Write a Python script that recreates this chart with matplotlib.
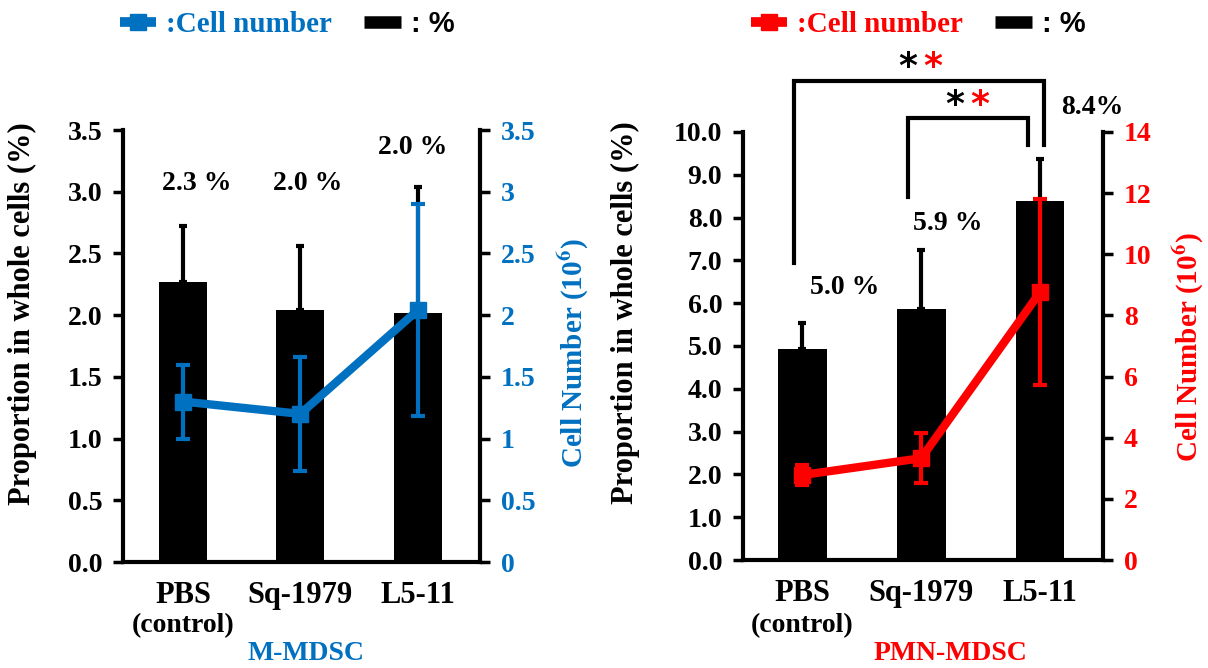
import numpy as np
import matplotlib
matplotlib.use('Agg')
import matplotlib.pyplot as plt
from matplotlib.lines import Line2D
from matplotlib.transforms import blended_transform_factory

plt.rcParams['font.family'] = 'Liberation Serif'
plt.rcParams['font.weight'] = 'bold'
plt.rcParams['axes.labelweight'] = 'bold'
plt.rcParams['mathtext.fontset'] = 'stix'

# --- data ---
groups = ['PBS', 'Sq-1979', 'L5-11']

m_pct = [2.27, 2.04, 2.02]
m_pct_err = [0.45, 0.52, 1.02]
m_cell = [1.30, 1.20, 2.04]
m_cell_err = [0.30, 0.46, 0.86]
m_pct_labels = ['2.3 %', '2.0 %', '2.0 %']

pmn_pct = [4.93, 5.86, 8.39]
pmn_pct_err = [0.61, 1.38, 0.98]
pmn_cell = [2.78, 3.33, 8.76]
pmn_cell_err = [0.32, 0.82, 3.05]
pmn_pct_labels = ['5.0 %', '5.9 %', '8.4%']

BLUE = '#0070C0'
RED = '#FF0000'

# layout of the value labels (x offset from bar, y in left-axis units)
m_label_pos = [(0.12, 3.07), (0.06, 3.07), (-0.04, 3.36)]
pmn_label_pos = [(0.36, 6.36), (0.22, 7.87), (0.44, 10.58)]

fig = plt.figure(figsize=(12.08, 6.68), dpi=100)


def draw_panel(rect, pct, pct_err, cell, cell_err, color, xlim,
               ylim, yticks, ylim2, yticks2, fmt2, labels, label_pos):
    ax = fig.add_axes(rect)
    x = np.arange(len(groups))
    ax.bar(x, pct, width=0.41, color='black', zorder=2)
    ax.errorbar(x, pct, yerr=[np.zeros(len(pct)), pct_err], fmt='none',
                ecolor='black', elinewidth=3, capsize=3, capthick=3, zorder=3)
    ax.set_xlim(*xlim)
    ax.set_ylim(*ylim)
    ax.set_yticks(yticks)
    ax.set_yticklabels(['%.1f' % v for v in yticks])
    ax.set_xticks(x)
    ax.set_xticklabels(groups, fontsize=22)
    ax.tick_params(axis='x', length=0, pad=14)
    ax.tick_params(axis='y', direction='out', length=7, width=2.5,
                   labelsize=20, pad=8)
    ax.spines['top'].set_visible(False)
    ax.spines['right'].set_visible(False)
    for s in ['left', 'bottom']:
        ax.spines[s].set_linewidth(3)

    for i, (dx, yy) in enumerate(label_pos):
        ax.text(i + dx, yy, labels[i], ha='center', va='center', fontsize=20)

    trans = blended_transform_factory(ax.transData, fig.transFigure)
    ax.text(0, 1 - 626 / 668, '(control)', transform=trans, ha='center',
            va='center', fontsize=20)

    ax2 = ax.twinx()
    ax2.errorbar(x, cell, yerr=cell_err, color=color, lw=6, marker='s',
                 ms=11, elinewidth=3, capsize=5, capthick=3, zorder=4)
    ax2.set_ylim(*ylim2)
    ax2.set_yticks(yticks2)
    ax2.set_yticklabels([fmt2(v) for v in yticks2])
    ax2.tick_params(axis='y', direction='out', length=7, width=2.5,
                    labelsize=20, labelcolor=color, color='black', pad=8)
    for s in ['top', 'left', 'bottom']:
        ax2.spines[s].set_visible(False)
    ax2.spines['right'].set_linewidth(3)
    ax2.set_ylabel('Cell Number (10$^{\\mathbf{6}}$)', color=color,
                   fontsize=21)
    ax.set_ylabel('Proportion in whole cells (%)', fontsize=22)
    return ax, ax2


# left panel: M-MDSC
axL, axL2 = draw_panel([123 / 1208, 1 - 562 / 668, 357 / 1208, 432 / 668],
                       m_pct, m_pct_err, m_cell, m_cell_err, BLUE,
                       (-0.51, 2.53), (0, 3.5), np.arange(0, 3.51, 0.5),
                       (0, 3.5), np.arange(0, 3.51, 0.5), lambda v: '%g' % v,
                       m_pct_labels, m_label_pos)
axL.yaxis.set_label_coords(-0.241, 0.576)
axL2.yaxis.set_label_coords(1.21, 0.484)

# right panel: PMN-MDSC
axR, axR2 = draw_panel([743 / 1208, 1 - 560 / 668, 360 / 1208, 428 / 668],
                       pmn_pct, pmn_pct_err, pmn_cell, pmn_cell_err, RED,
                       (-0.50, 2.53), (0, 10), np.arange(0, 10.01, 1.0),
                       (0, 14), np.arange(0, 14.1, 2), lambda v: '%d' % v,
                       pmn_pct_labels, pmn_label_pos)
axR.yaxis.set_label_coords(-0.286, 0.577)
axR2.yaxis.set_label_coords(1.186, 0.498)

# significance brackets (x0, x1, top, left leg bottom, right leg bottom)
brackets = [(-0.07, 2.03, 11.2, 6.94, 9.7), (0.887, 1.90, 10.33, 8.48, 9.7)]
for x0, x1, top, yb0, yb1 in brackets:
    axR.plot([x0, x0, x1, x1], [yb0, top, top, yb1], color='black', lw=3,
             clip_on=False, solid_joinstyle='miter', zorder=5)
stars = [(0.887, 1.10, 11.52), (1.28, 1.49, 10.63)]
for xb, xr, yy in stars:
    axR.text(xb, yy, '*', color='black', fontsize=26, ha='center',
             va='center', family='DejaVu Sans', clip_on=False)
    axR.text(xr, yy, '*', color=RED, fontsize=26, ha='center',
             va='center', family='DejaVu Sans', clip_on=False)

# group names
fig.text(306 / 1208, 1 - 653 / 668, 'M-MDSC', color=BLUE, fontsize=20,
         ha='center', va='center')
fig.text(950 / 1208, 1 - 653 / 668, 'PMN-MDSC', color=RED, fontsize=20,
         ha='center', va='center')


# legends
def add_legend(color, cx):
    h1 = Line2D([], [], color=color, lw=7, marker='s', ms=12,
                solid_capstyle='butt')
    h2 = Line2D([], [], color='black', lw=9, solid_capstyle='butt')
    leg = fig.legend([h1, h2], [':Cell number', ': %'], loc='center',
                     bbox_to_anchor=(cx / 1208, 1 - 24 / 668), ncol=2,
                     frameon=False, fontsize=21, handlelength=1.25,
                     handletextpad=0.35, columnspacing=1.1)
    t1, t2 = leg.get_texts()
    t1.set_color(color)
    t2.set_family('Liberation Sans')
    return leg


add_legend(BLUE, 287)
add_legend(RED, 918)

fig.savefig('out.png', dpi=100)
